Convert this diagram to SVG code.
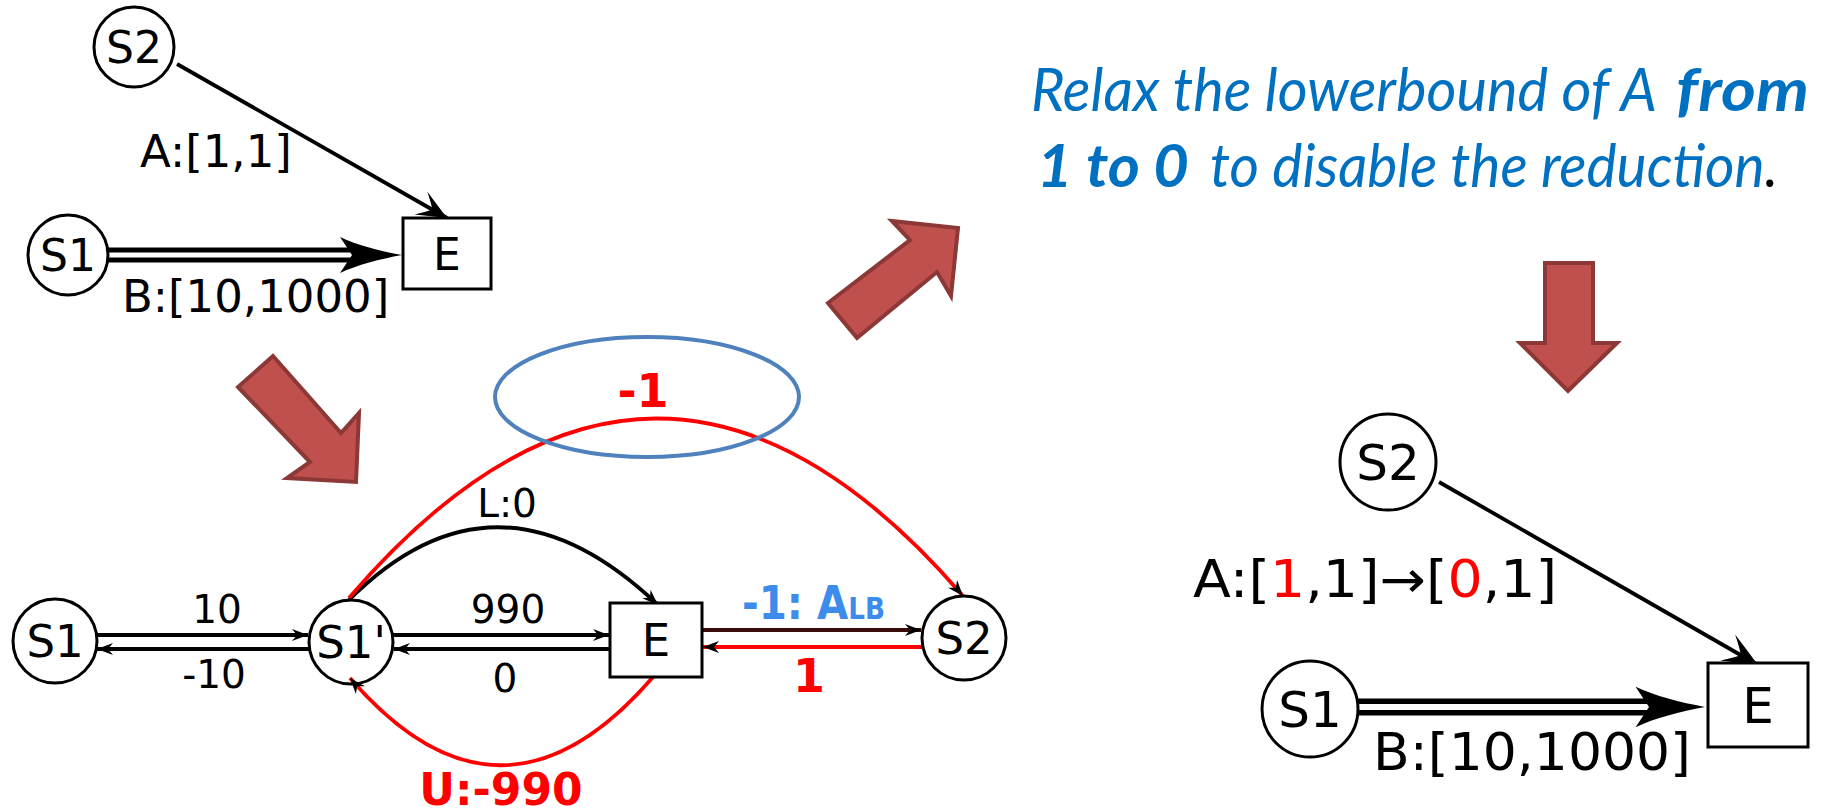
<svg xmlns="http://www.w3.org/2000/svg" width="1825" height="812" viewBox="0 0 1825 812">
<style>
.nd{fill:#fff;stroke:#000;stroke-width:3}
.lb{font-family:"DejaVu Sans","Liberation Sans",sans-serif;fill:#000;text-anchor:middle}
.el{font-family:"DejaVu Sans","Liberation Sans",sans-serif;fill:#000}
.rb{font-family:"DejaVu Sans","Liberation Sans",sans-serif;font-weight:bold;fill:#ff0000;text-anchor:middle}
.bl{font-family:"DejaVu Sans","Liberation Sans",sans-serif;font-weight:bold;fill:#3d8bea}
.ln{fill:none;stroke:#000;stroke-width:3.8}
.rd{fill:none;stroke:#ff0000;stroke-width:3.8}
.big{fill:#c0504d;stroke:#8c3836;stroke-width:4;stroke-linejoin:miter}
.ttl{font-family:Lato,"Open Sans","Liberation Sans",sans-serif;font-style:italic;fill:#0070c0;font-size:60px}
</style>
<defs>
<marker id="vs" markerUnits="userSpaceOnUse" viewBox="-18 -8 20 16" markerWidth="20" markerHeight="16" refX="0" refY="0" orient="auto"><path d="M0,0 L-16,-6 L-11,0 L-16,6 Z" fill="#000"/></marker>
<marker id="vl" markerUnits="userSpaceOnUse" viewBox="-32 -15 34 30" markerWidth="34" markerHeight="30" refX="0" refY="0" orient="auto"><path d="M0,0 Q-14,-6 -30,-13 Q-20,-4 -17,0 Q-20,4 -30,13 Q-14,6 0,0 Z" fill="#000"/></marker>
<marker id="vr" markerUnits="userSpaceOnUse" viewBox="-37 -17 39 34" markerWidth="39" markerHeight="34" refX="0" refY="0" orient="auto"><path d="M0,0 Q-16,-7 -35,-15 Q-23,-4.5 -20,0 Q-23,4.5 -35,15 Q-16,7 0,0 Z" fill="#000"/></marker>
<path id="bighead" d="M0,0 C-22,-4 -45,-10 -62,-18 L-50,0 L-62,18 C-45,10 -22,4 0,0 Z" fill="#000"/>
</defs>

<!-- big red arrows -->
<g id="arrow-down-right"><polygon class="big" points="273,356 238,387 310,462 287,478 356,482 359,413 341,433"/></g>
<g id="arrow-up-right"><polygon class="big" points="892,221 958,228 951,296 937,272 857,338 828,303 910,240"/></g>
<g id="arrow-down"><polygon class="big" points="1545,263 1593,263 1593,343 1617,343 1568,391 1520,343 1545,343"/></g>

<!-- title -->
<g id="title">
<text class="ttl" x="1031" y="111" textLength="626" lengthAdjust="spacingAndGlyphs">Relax the lowerbound of A</text>
<text class="ttl" x="1676" y="111" font-weight="bold" textLength="133" lengthAdjust="spacingAndGlyphs">from</text>
<text class="ttl" x="1037" y="187" font-weight="bold" textLength="152" lengthAdjust="spacingAndGlyphs">1 to 0</text>
<text class="ttl" x="1210" y="187" textLength="568" lengthAdjust="spacingAndGlyphs">to disable the reduction<tspan style="fill:#000">.</tspan></text>
</g>

<!-- connectors -->
<g id="connectors">
<!-- top-left graph -->
<path class="ln" d="M177,64 L447,218" marker-end="url(#vl)"/>
<path d="M108,255 L354,255" stroke="#000" stroke-width="15" fill="none"/>
<path d="M108,255 L354,255" stroke="#fff" stroke-width="5" fill="none"/>
<use href="#bighead" transform="translate(402,255)"/>
<text class="el" x="140" y="167" font-size="45">A:[1,1]</text>
<text class="el" x="122" y="312" font-size="45">B:[10,1000]</text>

<!-- bottom graph -->
<path class="ln" d="M97,635 L308,635" marker-end="url(#vs)"/>
<path class="ln" d="M309,649 L97,649" marker-end="url(#vs)"/>
<path class="ln" d="M393,635 L609,635" marker-end="url(#vs)"/>
<path class="ln" d="M610,649 L394,649" marker-end="url(#vs)"/>
<path d="M702,630 L921,630" fill="none" stroke="#3a0b0b" stroke-width="4" marker-end="url(#vs)"/>
<path class="rd" d="M922,647 L703,647" marker-end="url(#vs)"/>
<path class="ln" d="M349,600 Q497,452 658,605" marker-end="url(#vs)"/>
<path class="rd" d="M349,598 Q656,240 963,596" marker-end="url(#vs)"/>
<path class="rd" d="M653,677 Q501,853 350,678" marker-end="url(#vs)"/>
<text class="lb" x="217" y="623" font-size="39">10</text>
<text class="lb" x="214" y="688" font-size="39">-10</text>
<text class="lb" x="508" y="623" font-size="39">990</text>
<text class="lb" x="505" y="692" font-size="39">0</text>
<text class="lb" x="507" y="517" font-size="39">L:0</text>
<text class="rb" x="643" y="407" font-size="46">-1</text>
<text class="rb" x="501" y="805" font-size="44">U:-990</text>
<text class="rb" x="809" y="692" font-size="46">1</text>
<text class="bl" x="742" y="619" font-size="46" textLength="143" lengthAdjust="spacingAndGlyphs">-1: A<tspan font-size="30">LB</tspan></text>

<!-- right graph -->
<path class="ln" d="M1439,482 L1758,665" marker-end="url(#vr)"/>
<path d="M1357,707 L1652,707" stroke="#000" stroke-width="17" fill="none"/>
<path d="M1357,707 L1652,707" stroke="#fff" stroke-width="6" fill="none"/>
<use href="#bighead" transform="translate(1705,707) scale(1.12)"/>
<text class="el" x="1193" y="597" font-size="51" textLength="364" lengthAdjust="spacingAndGlyphs">A:[<tspan fill="#ff0000">1</tspan>,1]→[<tspan fill="#ff0000">0</tspan>,1]</text>
<text class="el" x="1373" y="770" font-size="51" textLength="318" lengthAdjust="spacingAndGlyphs">B:[10,1000]</text>
</g>

<!-- highlight ellipse -->
<g id="highlight"><ellipse cx="647" cy="397" rx="152" ry="60" fill="none" stroke="#4f81bd" stroke-width="4"/></g>

<!-- top-left nodes -->
<g id="tl-S2"><circle class="nd" cx="134" cy="47" r="40"/><text class="lb" x="134" y="63" font-size="44">S2</text></g>
<g id="tl-S1"><circle class="nd" cx="68" cy="255" r="40"/><text class="lb" x="68" y="271" font-size="44">S1</text></g>
<g id="tl-E"><rect class="nd" x="403" y="218" width="88" height="71"/><text class="lb" x="447" y="270" font-size="44">E</text></g>

<!-- bottom nodes -->
<g id="b-S1"><circle class="nd" cx="55" cy="641" r="42"/><text class="lb" x="55" y="657" font-size="45">S1</text></g>
<g id="b-S1p"><circle class="nd" cx="351" cy="642" r="42" style="fill:none"/><text class="lb" x="351" y="658" font-size="45">S1'</text></g>
<g id="b-E"><rect class="nd" x="610" y="603" width="92" height="74"/><text class="lb" x="656" y="656" font-size="45">E</text></g>
<g id="b-S2"><circle class="nd" cx="964" cy="638" r="42"/><text class="lb" x="964" y="654" font-size="45">S2</text></g>

<!-- right nodes -->
<g id="r-S2"><circle class="nd" cx="1388" cy="462" r="48"/><text class="lb" x="1388" y="480" font-size="50">S2</text></g>
<g id="r-S1"><circle class="nd" cx="1310" cy="709" r="48"/><text class="lb" x="1310" y="727" font-size="50">S1</text></g>
<g id="r-E"><rect class="nd" x="1708" y="663" width="100" height="84"/><text class="lb" x="1758" y="723" font-size="50">E</text></g>
</svg>
